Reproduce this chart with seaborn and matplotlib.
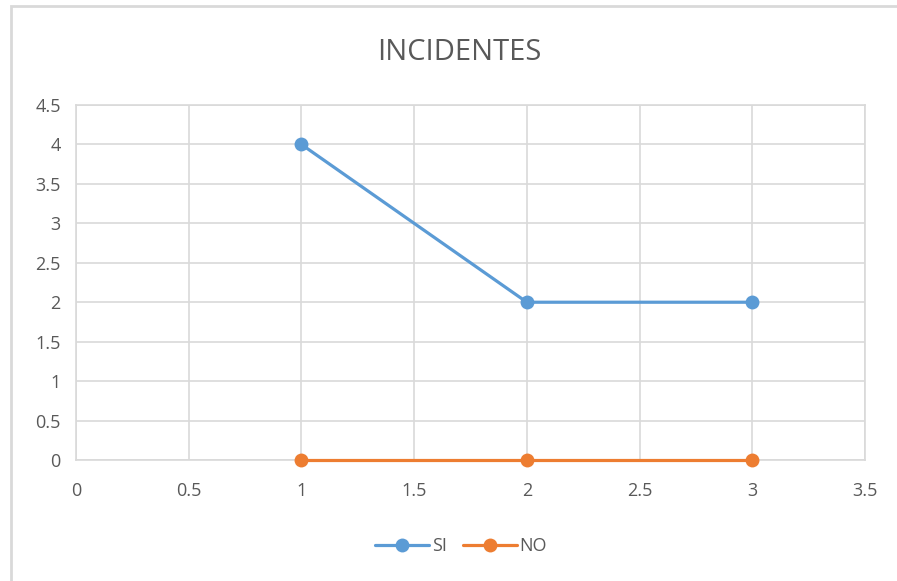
import matplotlib
matplotlib.use("Agg")
import matplotlib.pyplot as plt
import seaborn as sns
import pandas as pd
from matplotlib.patches import Rectangle

# Data
x_vals = [1, 2, 3]
si_vals = [4, 2, 2]
no_vals = [0, 0, 0]
series_names = ["SI", "NO"]
series_colors = ["#5B9BD5", "#ED7D31"]
title_text = "INCIDENTES"

df = pd.DataFrame({
    "x": x_vals * 2,
    "valor": si_vals + no_vals,
    "serie": [series_names[0]] * len(x_vals) + [series_names[1]] * len(x_vals),
})

sns.set_theme(style="white")
plt.rcParams["font.family"] = ["Open Sans", "DejaVu Sans"]

fig = plt.figure(figsize=(8.97, 5.81), dpi=100)
ax = fig.add_axes([76 / 897, 1 - 460 / 581, (865 - 76) / 897, 355 / 581])

# outer chart frame
fig.patches.append(Rectangle((11 / 897, -0.05), 1.1, 1 - 6 / 581 + 0.05,
                             transform=fig.transFigure, fill=False,
                             edgecolor="#D9D9D9", linewidth=2, zorder=0))

sns.lineplot(data=df, x="x", y="valor", hue="serie", hue_order=series_names,
             palette=series_colors, marker="o", markersize=10,
             markeredgewidth=0, linewidth=2.3, ax=ax, legend=False,
             clip_on=False, zorder=3)

ax.set_xlim(0, 3.5)
ax.set_ylim(0, 4.5)
ax.set_xticks([0, 0.5, 1, 1.5, 2, 2.5, 3, 3.5])
ax.set_xticklabels(["0", "0.5", "1", "1.5", "2", "2.5", "3", "3.5"])
ax.set_yticks([0, 0.5, 1, 1.5, 2, 2.5, 3, 3.5, 4, 4.5])
ax.set_yticklabels(["0", "0.5", "1", "1.5", "2", "2.5", "3", "3.5", "4", "4.5"])
ax.grid(True, color="#D9D9D9", linewidth=1.2)
ax.set_axisbelow(True)
for s in ax.spines.values():
    s.set_color("#D9D9D9")
    s.set_linewidth(1.2)
ax.tick_params(axis="both", length=0, colors="#595959", labelsize=13)
ax.tick_params(axis="x", pad=16)
ax.tick_params(axis="y", pad=11)
ax.set_xlabel("")
ax.set_ylabel("")

fig.text(0.512, 1 - 52 / 581, title_text, ha="center", va="center",
         fontsize=21, color="#595959")

handles = [plt.Line2D([], [], color=c, marker="o", markersize=10,
                      markeredgewidth=0, linewidth=2.3) for c in series_colors]
fig.legend(handles, series_names, loc="center", bbox_to_anchor=(0.514, 1 - 546 / 581),
           ncol=2, frameon=False, fontsize=13, labelcolor="#595959",
           handlelength=3.0, handletextpad=0.15, columnspacing=0.9)

fig.savefig("out.png", dpi=100, facecolor="white")
